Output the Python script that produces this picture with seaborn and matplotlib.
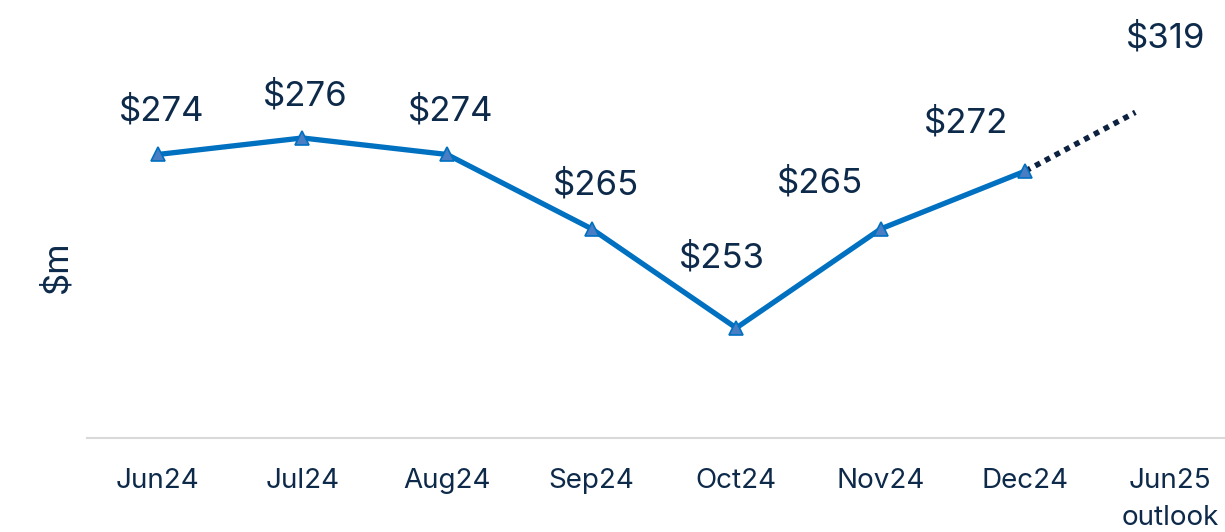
import matplotlib
matplotlib.use("Agg")
import matplotlib.pyplot as plt
import seaborn as sns

# data
months = ["Jun24", "Jul24", "Aug24", "Sep24", "Oct24", "Nov24", "Dec24", "Jun25\noutlook"]
revenue = [274, 276, 274, 265, 253, 265, 272]
outlook_value = 319
# dotted trend towards the outlook (axis is broken, so it stops short)
outlook_pos = [6, 6.76]
outlook_trend = [272, 279.1]

# label offsets in pixels (dx, dy)
label_offsets = [(4, 43), (3, 42), (4, 43), (4, 44), (-14, 70), (-61, 46), (-59, 48)]
outlook_offset = (30, 74)

text_col = "#0E2A4A"
line_col = "#0070C0"

sns.set_style("white")
plt.rcParams["font.family"] = ["Inter", "DejaVu Sans"]

fig = plt.figure(figsize=(12.25, 5.32), dpi=100)
ax = fig.add_axes([0.071, 0.177, 0.929, 0.823])

x = list(range(len(revenue)))
sns.lineplot(x=x, y=revenue, ax=ax, color=line_col, linewidth=3.8,
             marker="^", markersize=10, markerfacecolor="#4A7EC4",
             markeredgecolor=line_col, markeredgewidth=1.2)
ax.plot(outlook_pos, outlook_trend, color="#0D2240", linewidth=4,
        linestyle=(0, (1, 1)), zorder=1)

for xi, v, (dx, dy) in zip(x, revenue, label_offsets):
    ax.annotate(f"${v}", (xi, v), xytext=(dx, dy), textcoords="offset pixels",
                ha="center", va="center", fontsize=25, color=text_col)
ax.annotate(f"${outlook_value}", (outlook_pos[-1], outlook_trend[-1]),
            xytext=outlook_offset, textcoords="offset pixels",
            ha="center", va="center", fontsize=25, color=text_col,
            annotation_clip=False)

ax.set_xlim(-0.49, 7.38)
ax.set_ylim(239.7, 292.7)
ax.set_xticks(range(len(months)))
ax.set_xticklabels(months, fontsize=20, color=text_col, linespacing=1.55, va="top")
ax.tick_params(axis="x", length=0, pad=22)
ax.set_yticks([])
ax.set_ylabel("$m", fontsize=25, color=text_col)
ax.yaxis.set_label_coords(-0.012, 0.39)

for s in ["top", "right", "left"]:
    ax.spines[s].set_visible(False)
ax.spines["bottom"].set_color("#D9D9D9")
ax.spines["bottom"].set_linewidth(1.5)

fig.savefig("out.png", dpi=100)
